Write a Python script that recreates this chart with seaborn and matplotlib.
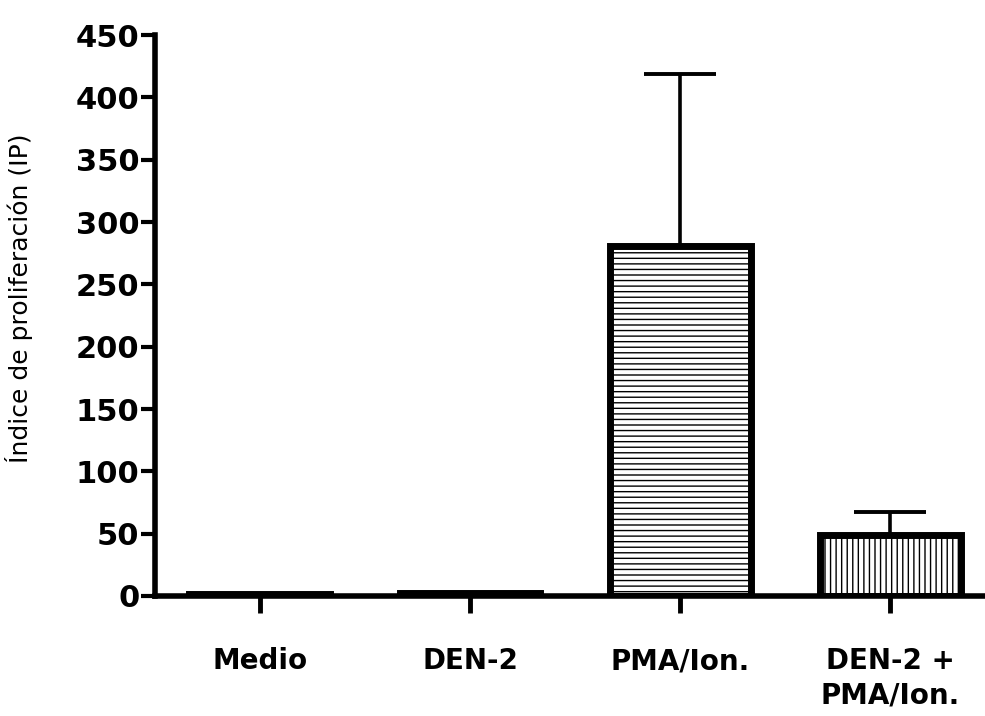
import seaborn as sns
import matplotlib.pyplot as plt
import pandas as pd
import numpy as np

# data
groups = ['Medio', 'DEN-2', 'PMA/Ion.', 'DEN-2 +\nPMA/Ion.']
means = [1.5, 2.5, 281, 49]
errors = [0, 0, 138, 18]
hatches = ['', '', '---', '|||']

df = pd.DataFrame({'grupo': groups, 'IP': means})

sns.set_style('white')
plt.rcParams['font.family'] = ['DejaVu Sans']
plt.rcParams['hatch.linewidth'] = 1.0
for k in ['text.color', 'axes.labelcolor', 'xtick.color', 'ytick.color', 'axes.edgecolor']:
    plt.rcParams[k] = 'black'

fig = plt.figure(figsize=(9.85, 7.16), dpi=100)
ax = fig.add_axes([0.157, 0.1676, 0.843, 0.7834])

sns.barplot(x='grupo', y='IP', data=df, color='white', edgecolor='black',
            linewidth=5, width=0.67, errorbar=None, ax=ax)
for bar, h in zip(ax.patches, hatches):
    bar.set_hatch(h)

ax.errorbar(range(len(groups)), means, yerr=[np.zeros(len(errors)), errors],
            fmt='none', ecolor='black', elinewidth=2.6, capsize=26, capthick=2.8, zorder=1)

ax.set_xlim(-0.5, 3.45)
ax.set_ylim(0, 450)
ax.set_yticks(range(0, 451, 50))
ax.set_xlabel('')
ax.set_ylabel('Índice de proliferación (IP)', fontsize=18)
ax.yaxis.set_label_coords(-0.147, 0.53)

for s in ['top', 'right']:
    ax.spines[s].set_visible(False)
for s in ['left', 'bottom']:
    ax.spines[s].set_linewidth(4)

ax.tick_params(axis='y', length=10, width=3, pad=1, labelsize=22, left=True)
ax.tick_params(axis='x', length=12, width=3.5, pad=25, labelsize=20, bottom=True)
for lab in ax.get_yticklabels():
    lab.set_fontweight('bold')
for lab in ax.get_xticklabels():
    lab.set_fontweight('bold')
    lab.set_linespacing(1.3)

plt.savefig('out.png', dpi=100)
